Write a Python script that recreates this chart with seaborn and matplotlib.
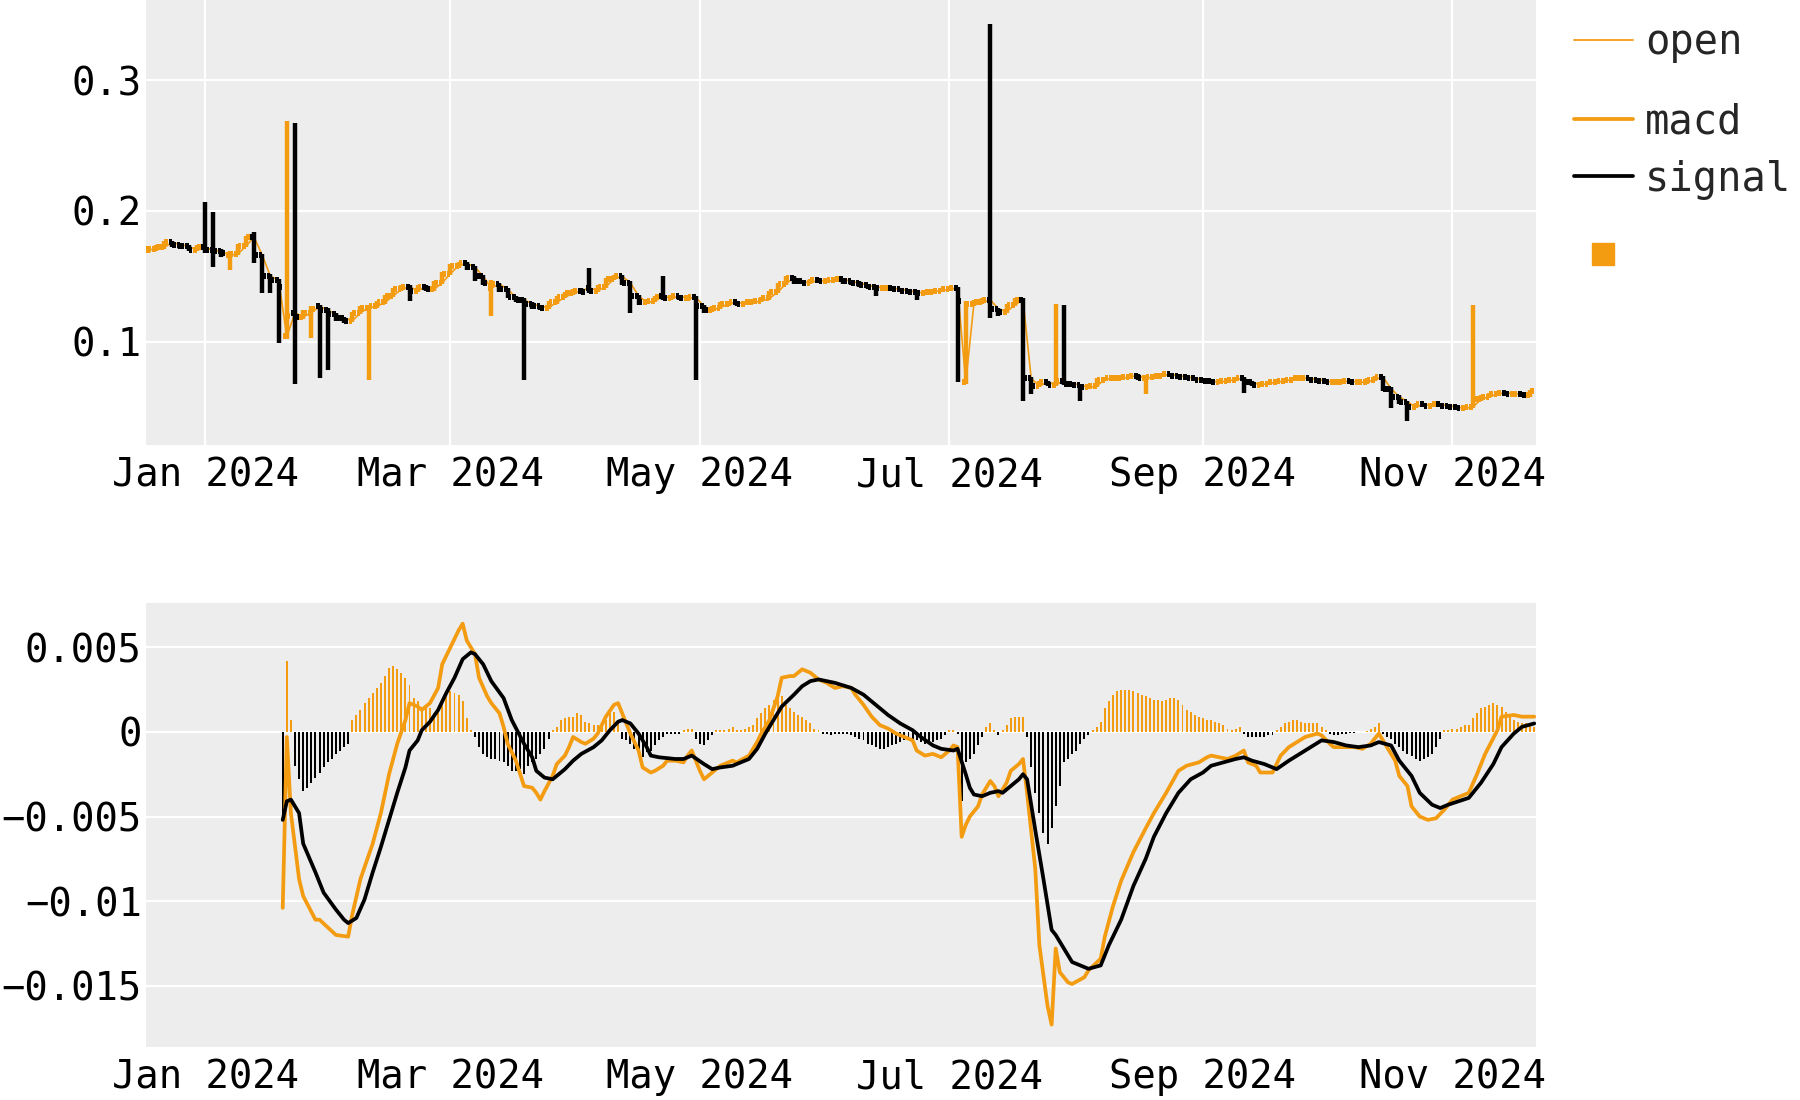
import numpy as np
import pandas as pd
import matplotlib
matplotlib.use("Agg")
import matplotlib.pyplot as plt
import matplotlib.dates as mdates
from matplotlib.lines import Line2D
from matplotlib.ticker import FixedLocator, FixedFormatter
import seaborn as sns

# ---------------- data ----------------
# price bars, one every two days starting 2023-12-18 (values in thousandths)
bar_start = "2023-12-18"
open_milli = [
    170, 171, 172, 176, 174, 173, 170, 172, 170, 169,
    166, 167, 173, 180, 166, 150, 147, 104, 122, 119,
    122, 127, 124, 121, 118, 116, 122, 126, 127, 130,
    135, 140, 142, 139, 142, 140, 145, 152, 158, 160,
    157, 150, 141, 144, 140, 134, 132, 129, 127, 126,
    130, 134, 137, 139, 141, 139, 142, 148, 150, 145,
    135, 130, 131, 135, 133, 135, 133, 134, 127, 124,
    126, 129, 130, 129, 130, 131, 133, 138, 144, 149,
    146, 145, 147, 146, 147, 148, 146, 145, 143, 142,
    141, 141, 140, 139, 138, 137, 138, 139, 140, 141,
    69, 129, 130, 132, 125, 123, 128, 132, 72, 66,
    69, 67, 70, 68, 67, 65, 66, 71, 72, 72,
    73, 74, 72, 73, 74, 75, 74, 73, 72, 71,
    70, 69, 70, 71, 72, 69, 67, 68, 69, 70,
    71, 72, 72, 71, 70, 69, 69, 70, 69, 69,
    71, 73, 64, 58, 54, 50, 52, 51, 52, 51,
    50, 49, 50, 56, 58, 60, 61, 60, 60, 59,
]
high_milli = [
    173, 174, 177, 177, 175, 174, 174, 207, 199, 171,
    169, 175, 181, 184, 167, 152, 148, 269, 267, 124,
    127, 128, 126, 122, 119, 123, 127, 128, 131, 136,
    141, 143, 143, 143, 143, 146, 153, 159, 161, 161,
    158, 151, 147, 145, 141, 135, 133, 130, 128, 131,
    135, 138, 140, 141, 156, 143, 149, 151, 151, 146,
    136, 132, 135, 150, 136, 136, 135, 135, 128, 127,
    130, 131, 131, 131, 132, 134, 139, 145, 150, 150,
    147, 148, 148, 148, 149, 149, 147, 146, 144, 143,
    142, 142, 141, 140, 139, 139, 140, 141, 142, 142,
    131, 132, 133, 343, 126, 129, 133, 133, 73, 70,
    70, 129, 128, 69, 68, 67, 72, 73, 73, 74,
    75, 75, 74, 75, 76, 76, 75, 74, 73, 72,
    71, 71, 72, 73, 73, 70, 69, 70, 71, 72,
    73, 73, 73, 72, 71, 70, 71, 71, 70, 72,
    74, 74, 65, 59, 55, 53, 53, 53, 53, 52,
    51, 51, 128, 59, 61, 62, 62, 61, 61, 63,
]
low_milli = [
    168, 169, 171, 172, 171, 169, 169, 168, 157, 165,
    155, 166, 172, 160, 137, 137, 99, 102, 68, 117,
    103, 72, 78, 116, 114, 115, 121, 71, 126, 129,
    134, 139, 131, 138, 139, 139, 144, 151, 156, 155,
    146, 143, 120, 138, 133, 130, 71, 125, 124, 125,
    129, 133, 136, 137, 137, 138, 141, 147, 143, 122,
    128, 129, 130, 132, 132, 132, 131, 71, 122, 123,
    125, 127, 127, 128, 129, 130, 132, 137, 143, 144,
    144, 144, 145, 145, 146, 144, 143, 142, 140, 135,
    139, 139, 138, 137, 132, 136, 137, 138, 139, 69,
    68, 127, 129, 118, 120, 122, 127, 55, 60, 65,
    66, 66, 67, 66, 55, 64, 65, 70, 71, 71,
    72, 71, 60, 72, 73, 73, 72, 71, 70, 69,
    68, 68, 69, 70, 61, 66, 66, 67, 68, 69,
    70, 71, 70, 69, 68, 68, 68, 68, 68, 68,
    70, 62, 49, 52, 39, 49, 50, 50, 50, 49,
    48, 48, 49, 55, 57, 59, 59, 59, 58, 58,
]
close_milli = [
    171, 172, 176, 174, 173, 170, 172, 170, 169, 168,
    167, 173, 180, 166, 150, 147, 142, 120, 119, 122,
    125, 124, 121, 118, 116, 122, 126, 127, 130, 135,
    140, 142, 139, 142, 140, 145, 152, 158, 160, 157,
    150, 145, 144, 140, 134, 132, 129, 127, 126, 130,
    134, 137, 139, 138, 139, 142, 148, 150, 145, 135,
    130, 131, 134, 133, 135, 133, 134, 127, 124, 126,
    129, 130, 129, 130, 131, 133, 138, 144, 149, 146,
    145, 147, 146, 147, 148, 146, 145, 143, 142, 141,
    141, 140, 139, 138, 137, 138, 139, 140, 141, 131,
    129, 130, 132, 125, 123, 128, 132, 72, 66, 69,
    67, 70, 68, 67, 65, 66, 71, 72, 72, 73,
    74, 72, 73, 74, 75, 74, 73, 72, 71, 70,
    69, 70, 71, 72, 69, 67, 68, 69, 70, 71,
    72, 72, 71, 70, 69, 69, 70, 69, 69, 71,
    73, 64, 58, 54, 50, 52, 51, 52, 51, 50,
    49, 50, 56, 58, 60, 61, 60, 60, 59, 62,
]

# MACD panel (values in units of 1e-4); line points are (day of 2024 counted from Jan 1, value)
macd_points = [
    (19, -104), (20, -3), (21, -48), (23, -87), (24, -97), (27, -111), (28, -111), (32, -120),
    (35, -121), (36, -108), (38, -87), (41, -66), (43, -48), (45, -25), (47, -7), (49, 7),
    (50, 17), (52, 15), (53, 13), (55, 17), (57, 26), (58, 40), (60, 50), (62, 60), (63, 64),
    (64, 54), (66, 46), (67, 32), (69, 21), (70, 17), (72, 11), (73, 3), (74, -7), (76, -17),
    (78, -32), (80, -33), (81, -36), (82, -40), (83, -35), (85, -26), (86, -19), (88, -14),
    (89, -9), (90, -3), (92, -6), (93, -7), (95, -4), (96, -1), (98, 9), (100, 16), (101, 17),
    (102, 11), (104, -1), (106, -11), (107, -21), (109, -24), (110, -23), (112, -20), (113, -17),
    (115, -17), (117, -18), (118, -14), (119, -11), (121, -23), (122, -28), (124, -24),
    (126, -20), (129, -17), (130, -18), (133, -14), (135, -6), (136, -1), (138, 7), (140, 21),
    (141, 32), (143, 33), (144, 33), (146, 37), (148, 35), (150, 31), (152, 29), (154, 26),
    (156, 27), (158, 26), (159, 22), (161, 16), (163, 9), (165, 4), (167, 2), (169, -1),
    (171, -3), (173, -5), (174, -11), (176, -14), (178, -13), (180, -15), (182, -11), (183, -8),
    (184, -9), (185, -62), (186, -55), (187, -50), (189, -44), (190, -37), (192, -29),
    (193, -32), (194, -38), (196, -30), (197, -23), (199, -19), (200, -16), (201, -36),
    (203, -81), (204, -126), (206, -162), (207, -173), (208, -128), (209, -142), (211, -148),
    (212, -149), (215, -145), (216, -141), (219, -134), (220, -121), (222, -103), (224, -88),
    (227, -71), (230, -57), (232, -48), (235, -36), (238, -23), (240, -20), (243, -18),
    (245, -15), (246, -14), (248, -15), (250, -16), (252, -14), (254, -11), (255, -18),
    (257, -20), (258, -24), (261, -24), (263, -14), (265, -9), (267, -6), (269, -3), (272, -1),
    (273, -2), (275, -7), (276, -9), (279, -9), (281, -9), (283, -10), (285, -7), (287, -1),
    (289, -9), (291, -17), (292, -26), (294, -32), (295, -44), (297, -50), (299, -52),
    (301, -51), (303, -46), (305, -40), (309, -36), (311, -25), (313, -13), (316, 1), (317, 9),
    (320, 10), (322, 9), (325, 9),
]
signal_points = [
    (19, -52), (20, -41), (21, -40), (23, -48), (24, -66), (27, -83), (29, -95), (32, -105),
    (34, -111), (35, -113), (37, -110), (39, -99), (41, -83), (43, -68), (45, -52), (47, -36),
    (49, -21), (50, -11), (52, -5), (53, 1), (55, 6), (57, 13), (59, 23), (61, 32), (63, 43),
    (65, 47), (66, 46), (68, 40), (70, 30), (73, 20), (75, 7), (78, -7), (80, -15), (81, -23),
    (83, -27), (85, -28), (86, -26), (88, -22), (90, -17), (92, -13), (95, -9), (97, -5),
    (99, 1), (101, 6), (102, 7), (104, 5), (106, -1), (108, -9), (109, -14), (111, -15),
    (115, -16), (117, -16), (119, -14), (122, -19), (124, -22), (126, -21), (129, -20),
    (131, -18), (133, -16), (135, -10), (137, -1), (139, 7), (141, 15), (144, 22), (146, 27),
    (148, 30), (150, 31), (154, 29), (158, 26), (161, 22), (164, 16), (167, 10), (170, 5),
    (173, 1), (175, -3), (178, -8), (180, -10), (183, -11), (184, -10), (186, -25), (187, -33),
    (188, -37), (190, -38), (192, -36), (194, -35), (195, -36), (197, -32), (199, -28),
    (200, -25), (201, -28), (203, -58), (205, -87), (207, -117), (208, -120), (210, -128),
    (212, -136), (215, -139), (216, -140), (219, -138), (221, -126), (224, -111), (227, -91),
    (230, -75), (232, -62), (235, -48), (238, -36), (241, -28), (244, -24), (246, -20),
    (249, -18), (252, -16), (254, -15), (256, -17), (259, -19), (262, -22), (265, -17),
    (269, -11), (273, -5), (276, -6), (279, -8), (282, -9), (285, -8), (287, -6), (290, -8),
    (292, -17), (295, -26), (297, -36), (300, -43), (302, -45), (304, -43), (309, -39),
    (312, -30), (315, -19), (317, -9), (320, -1), (322, 3), (325, 5),
]
# daily histogram starting 2024-01-20 (units of 1e-4)
hist_start = "2024-01-20"
hist_e4 = [
    -52, 42, 7, -20, -28, -35, -33, -30, -27, -24,
    -21, -18, -16, -13, -11, -9, -7, 7, 10, 13,
    17, 20, 23, 26, 29, 33, 38, 39, 37, 35,
    32, 28, 20, 18, 15, 14, 14, 11, 12, 17,
    22, 24, 23, 22, 18, 8, 1, -3, -9, -13,
    -15, -16, -16, -17, -18, -20, -23, -23, -22, -25,
    -20, -18, -16, -13, -10, -4, 1, 3, 7, 8,
    9, 9, 11, 10, 6, 5, 4, 4, 3, 7,
    11, 12, 6, -4, -5, -7, -10, -14, -15, -12,
    -11, -8, -5, -3, -1, -1, -1, -1, 1, 2,
    2, -4, -7, -8, -5, -2, 1, 1, 1, 2,
    3, 1, 1, 2, 3, 4, 8, 11, 14, 16,
    19, 22, 21, 16, 14, 12, 10, 9, 7, 5,
    2, 1, -1, -1, -2, -1, -1, -1, -1, -2,
    -3, -4, -5, -7, -8, -9, -10, -10, -9, -8,
    -7, -6, -5, -4, -4, -5, -6, -7, -7, -6,
    -5, -4, -2, 1, 1, -1, -41, -18, -16, -13,
    -8, -3, 3, 5, 1, -2, 1, 4, 8, 9,
    9, 9, -3, -21, -36, -48, -60, -66, -57, -44,
    -32, -18, -16, -13, -11, -7, -4, -2, 1, 3,
    6, 14, 18, 22, 24, 25, 25, 25, 24, 23,
    22, 21, 20, 19, 19, 18, 19, 20, 20, 19,
    16, 13, 12, 10, 9, 8, 7, 7, 6, 5,
    4, 2, 1, 2, 3, -1, -3, -3, -3, -3,
    -3, -2, -2, 1, 3, 5, 6, 7, 7, 6,
    5, 5, 5, 5, 3, 1, -1, -2, -2, -1.5,
    -1, -0.6, -0.4, -0.3, -0.2, 0.5, 2, 3, 5, -1,
    -3, -4, -7, -9, -11, -13, -14, -16, -17, -16,
    -15, -13, -9, -4, 1, 1, 2, 2, 3, 4,
    4, 8, 11, 14, 15, 16, 17, 16, 15, 12,
    9, 7, 6, 5, 5, 4, 3,
]

price_yticks = [0.1, 0.2, 0.3]
price_ytick_labels = ["0.1", "0.2", "0.3"]
macd_yticks = [-0.015, -0.01, -0.005, 0.0, 0.005]
macd_ytick_labels = ["\u22120.015", "\u22120.01", "\u22120.005", "0", "0.005"]
legend_labels = ["open", "macd", "signal", ""]

# ---------------- style ----------------
ORANGE = "#F39C12"
INK = "#000000"
PANEL = "#EDEDED"
FS = 28
LEG_FS = 29.2

sns.set_theme(style="darkgrid", rc={
    "axes.facecolor": PANEL,
    "grid.color": "white",
    "grid.linewidth": 1.6,
    "axes.linewidth": 0,
    "xtick.major.size": 0,
    "ytick.major.size": 0,
})
plt.rcParams["font.family"] = ["DejaVu Sans Mono", "DejaVu Sans"]

W, H = 1800, 1100
fig = plt.figure(figsize=(W / 100, H / 100), dpi=100)
fig.patch.set_facecolor("white")


def frac_box(left, top, right, bottom):
    return [left / W, 1 - bottom / H, (right - left) / W, (bottom - top) / H]


ax1 = fig.add_axes(frac_box(146, 0, 1536, 445))
ax2 = fig.add_axes(frac_box(146, 602.7, 1536, 1047.3))

base = mdates.date2num(pd.Timestamp("2024-01-01"))

# ---- top: OHLC bars
n = min(len(open_milli), len(high_milli), len(low_milli), len(close_milli))
bar_dates = pd.date_range(bar_start, periods=n, freq="2D")
xb = mdates.date2num(bar_dates)
o = np.array(open_milli[:n]) / 1000.0
h = np.array(high_milli[:n]) / 1000.0
l = np.array(low_milli[:n]) / 1000.0
c = np.array(close_milli[:n]) / 1000.0
cols = np.where(c >= o, ORANGE, INK)

sns.lineplot(x=xb, y=o, ax=ax1, color=ORANGE, linewidth=1.2, legend=False)
ax1.vlines(xb, l, h, colors=cols, linewidth=3.2)
ax1.hlines(o, xb - 0.9, xb, colors=cols, linewidth=4.3)
ax1.hlines(c, xb, xb + 0.9, colors=cols, linewidth=4.3)

# ---- bottom: MACD
hist_dates = pd.date_range(hist_start, periods=len(hist_e4), freq="D")
xh = mdates.date2num(hist_dates)
hv = np.array(hist_e4) / 1e4
ax2.bar(xh, hv, width=0.48, color=np.where(hv >= 0, ORANGE, INK), linewidth=0)

md = base + np.array([p[0] for p in macd_points], dtype=float)
mv = np.array([p[1] for p in macd_points]) / 1e4
sd = base + np.array([p[0] for p in signal_points], dtype=float)
sv = np.array([p[1] for p in signal_points]) / 1e4
sns.lineplot(x=md, y=mv, ax=ax2, color=ORANGE, linewidth=2.7, legend=False, sort=False)
sns.lineplot(x=sd, y=sv, ax=ax2, color=INK, linewidth=2.7, legend=False, sort=False)

# ---- axes formatting
xlo, xhi = base - 14.43, base + 325.43
for ax in (ax1, ax2):
    ax.set_xlim(xlo, xhi)
    ax.xaxis.set_major_locator(mdates.MonthLocator(bymonth=[1, 3, 5, 7, 9, 11]))
    ax.xaxis.set_major_formatter(mdates.DateFormatter("%b %Y"))
    ax.tick_params(axis="x", labelsize=FS, pad=8, length=0, colors="black")
    ax.tick_params(axis="y", labelsize=FS, pad=3, length=0, colors="black")
    ax.set_xlabel("")
    ax.set_ylabel("")
    for sp in ax.spines.values():
        sp.set_visible(False)
    ax.set_axisbelow(True)

ax1.set_ylim(0.0210, 0.3612)
ax1.yaxis.set_major_locator(FixedLocator(price_yticks))
ax1.yaxis.set_major_formatter(FixedFormatter(price_ytick_labels))
ax1.grid(True, axis="both", color="white", linewidth=1.6)

ax2.set_ylim(-0.01864, 0.007636)
ax2.yaxis.set_major_locator(FixedLocator(macd_yticks))
ax2.yaxis.set_major_formatter(FixedFormatter(macd_ytick_labels))
ax2.grid(True, axis="y", color="white", linewidth=1.6)
ax2.grid(False, axis="x")

# ---- legend (three groups)
common = dict(frameon=False, loc="upper left", borderaxespad=0, borderpad=0,
              handlelength=1.45, handletextpad=0.3, labelspacing=0.42,
              prop={"family": "DejaVu Sans Mono", "size": LEG_FS})
h_open = Line2D([], [], color=ORANGE, linewidth=1.3)
h_macd = Line2D([], [], color=ORANGE, linewidth=2.7)
h_sig = Line2D([], [], color=INK, linewidth=2.7)
h_bar = Line2D([], [], marker="s", linestyle="none", markersize=16.5,
               markerfacecolor=ORANGE, markeredgecolor=ORANGE)
fig.legend([h_open], legend_labels[0:1], bbox_to_anchor=(1574 / W, 1 - 23 / H), **common)
fig.legend([h_macd, h_sig], legend_labels[1:3], bbox_to_anchor=(1574 / W, 1 - 102.5 / H), **common)
fig.legend([h_bar], legend_labels[3:4], bbox_to_anchor=(1574 / W, 1 - 237 / H), **common)

fig.savefig("out.png", dpi=100)
